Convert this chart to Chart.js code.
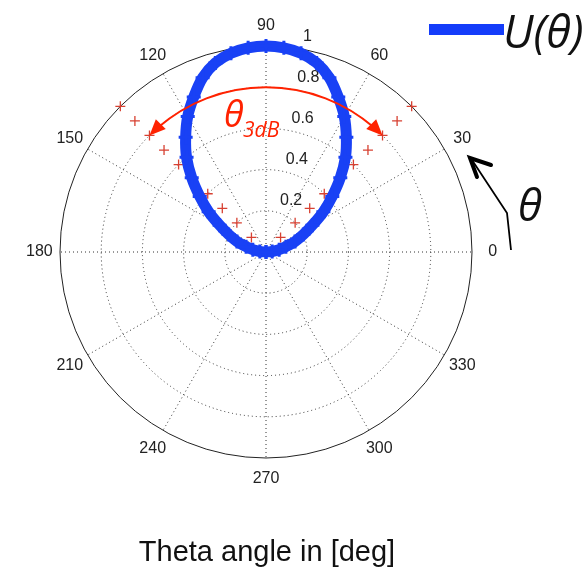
<!DOCTYPE html>
<html lang="en">

<head>
   <meta charset="UTF-8">
   <title>U(theta) polar</title>
   <style>
      html, body {
         margin: 0;
         padding: 0;
         background: #fff;
      }

      /* the whole picture is one canvas */
      .quadro {
         width: 588px;
         height: 568px;
         position: relative;
      }
   </style>
</head>

<body>
   <div class="quadro">
      <canvas id="polar"></canvas>
   </div>

   <script src="https://cdn.jsdelivr.net/npm/chart.js"></script>
   <script>
      // DATA
      var thetaDeg = [0, 5, 10, 15, 20, 25, 30, 35, 40, 45, 50, 55, 60, 65, 70, 75, 80, 85, 90,
         95, 100, 105, 110, 115, 120, 125, 130, 135, 140, 145, 150, 155, 160, 165, 170, 175, 180];
      var uTheta = [0, 0.03, 0.065, 0.1, 0.15, 0.2, 0.26, 0.34, 0.42, 0.51, 0.6, 0.68, 0.76, 0.83, 0.9, 0.95, 0.98, 0.995, 1,
         0.995, 0.98, 0.95, 0.9, 0.83, 0.76, 0.68, 0.6, 0.51, 0.42, 0.34, 0.26, 0.2, 0.15, 0.1, 0.065, 0.03, 0];
      // red "+" markers along the two 3dB directions
      var markAngles = [45, 135];
      var markRadii = [0, 0.1, 0.2, 0.3, 0.4, 0.5, 0.6, 0.7, 0.8, 0.9, 1];
      // grid
      var ringValues = [0.2, 0.4, 0.6, 0.8, 1];
      var ringLabels = ["0.2", "0.4", "0.6", "0.8", "1"];
      var spokeAngles = [0, 30, 60, 90, 120, 150, 180, 210, 240, 270, 300, 330];
      var spokeLabels = ["0", "30", "60", "90", "120", "150", "180", "210", "240", "270", "300", "330"];
      var arcRadius = 0.8; // the red theta_3dB arrow

      // where the polar axes sit on the canvas
      var W = 588, H = 568, CX = 266, CY = 252, R = 206;

      function rad(d) { return d * Math.PI / 180; }

      var curvePts = thetaDeg.map(function (t, i) {
         return { x: uTheta[i] * Math.cos(rad(t)), y: uTheta[i] * Math.sin(rad(t)) };
      });
      var markPts = [];
      markAngles.forEach(function (a) {
         markRadii.forEach(function (r) {
            markPts.push({ x: r * Math.cos(rad(a)), y: r * Math.sin(rad(a)) });
         });
      });

      var TICK_FONT = "16px 'Liberation Sans', Arial, sans-serif";

      // polar grid, labels and annotations
      var polarPlugin = {
         id: "polarGrid",
         beforeDatasetsDraw: function (chart) {
            var c = chart.ctx, xs = chart.scales.x, ys = chart.scales.y;
            var ox = xs.getPixelForValue(0), oy = ys.getPixelForValue(0);
            var rp = xs.getPixelForValue(1) - ox;
            c.save();
            // dotted rings
            c.strokeStyle = "#333";
            c.lineWidth = 1;
            c.setLineDash([1, 3]);
            ringValues.forEach(function (v) {
               if (v >= 1) return;
               c.beginPath();
               c.arc(ox, oy, v * rp, 0, Math.PI * 2);
               c.stroke();
            });
            // dotted spokes
            spokeAngles.forEach(function (a) {
               c.beginPath();
               c.moveTo(ox, oy);
               c.lineTo(ox + rp * Math.cos(rad(a)), oy - rp * Math.sin(rad(a)));
               c.stroke();
            });
            // solid outer circle
            c.setLineDash([]);
            c.strokeStyle = "#222";
            c.beginPath();
            c.arc(ox, oy, rp, 0, Math.PI * 2);
            c.stroke();
            // angle labels
            c.fillStyle = "#222";
            c.font = TICK_FONT;
            c.textAlign = "center";
            c.textBaseline = "middle";
            spokeAngles.forEach(function (a, i) {
               c.fillText(spokeLabels[i], ox + 1.1 * rp * Math.cos(rad(a)), oy - 1.1 * rp * Math.sin(rad(a)));
            });
            // ring labels
            c.textAlign = "left";
            c.textBaseline = "bottom";
            ringValues.forEach(function (v, i) {
               var rr = (v + 0.01) * rp;
               c.fillText(ringLabels[i], ox + rr * Math.cos(rad(82)) + 8, oy - rr * Math.sin(rad(82)) - 1);
            });
            c.restore();
         },
         afterDatasetsDraw: function (chart) {
            var c = chart.ctx, xs = chart.scales.x, ys = chart.scales.y;
            var ox = xs.getPixelForValue(0), oy = ys.getPixelForValue(0);
            var rp = xs.getPixelForValue(1) - ox;
            c.save();

            // red theta_3dB arc with two heads
            var red = "#ff2200";
            var ar = arcRadius * rp;
            var a1 = rad(markAngles[0]), a2 = rad(markAngles[1]);
            c.strokeStyle = red;
            c.fillStyle = red;
            c.lineWidth = 2;
            c.beginPath();
            c.arc(ox, oy, ar, -a2 + 0.07, -a1 - 0.07);
            c.stroke();
            function head(a, dir) {
               var tx = ox + ar * Math.cos(a), ty = oy - ar * Math.sin(a);
               // tangent pointing away from the middle of the arc
               var ux = -Math.sin(a) * dir, uy = -Math.cos(a) * dir;
               var L = 16, Wd = 7;
               c.beginPath();
               c.moveTo(tx, ty);
               c.lineTo(tx - ux * L - uy * Wd, ty - uy * L + ux * Wd);
               c.lineTo(tx - ux * L + uy * Wd, ty - uy * L - ux * Wd);
               c.closePath();
               c.fill();
            }
            head(a1, -1);
            head(a2, 1);

            c.textAlign = "left";
            c.textBaseline = "alphabetic";
            c.font = "italic 36px 'Open Sans', sans-serif";
            c.fillText("\u03b8", 224, 127);
            c.font = "italic 21px 'Open Sans', sans-serif";
            c.fillText("3dB", 243, 137);

            // legend
            c.fillStyle = "rgb(20,60,250)";
            c.fillRect(429, 24, 75, 11);
            c.fillStyle = "#111";
            c.font = "italic 45px 'Open Sans', sans-serif";
            c.fillText("U(\u03b8)", 503, 48);

            // black theta direction arrow
            c.strokeStyle = "#000";
            c.lineWidth = 1.8;
            c.beginPath();
            c.moveTo(511, 250);
            c.lineTo(507, 213);
            c.lineTo(472, 160);
            c.stroke();
            c.lineWidth = 4;
            c.lineCap = "round";
            c.beginPath();
            c.moveTo(491, 165);
            c.lineTo(470, 158);
            c.lineTo(477, 177);
            c.stroke();
            c.font = "italic 44px 'Open Sans', sans-serif";
            c.fillText("\u03b8", 518, 221);

            // bottom title
            c.font = "29px 'Liberation Sans', Arial, sans-serif";
            c.textAlign = "center";
            c.fillText("Theta angle in [deg]", 267, 561);
            c.restore();
         }
      };

      var ctx = document.getElementById("polar").getContext("2d");
      var polarChart = new Chart(ctx, {
         type: "scatter",
         data: {
            datasets: [
               {
                  label: "U(\u03b8)",
                  data: curvePts,
                  showLine: true,
                  borderColor: "rgb(25,65,245)",
                  backgroundColor: "rgb(25,65,245)",
                  borderWidth: 11,
                  tension: 0.25,
                  pointStyle: "cross",
                  pointRadius: 7,
                  pointBorderWidth: 3,
                  pointHoverRadius: 7
               },
               {
                  label: "3dB",
                  data: markPts,
                  showLine: false,
                  borderColor: "rgb(215,65,50)",
                  backgroundColor: "rgb(215,65,50)",
                  pointStyle: "cross",
                  pointRadius: 5,
                  pointBorderWidth: 1.3
               }
            ]
         },
         options: {
            responsive: true,
            maintainAspectRatio: false,
            animation: false,
            layout: { padding: 0, autoPadding: false },
            plugins: {
               legend: { display: false },
               tooltip: { enabled: false }
            },
            scales: {
               x: { display: false, min: -CX / R, max: (W - CX) / R },
               y: { display: false, min: -(H - CY) / R, max: CY / R }
            }
         },
         plugins: [polarPlugin]
      });
   </script>
</body>

</html>
